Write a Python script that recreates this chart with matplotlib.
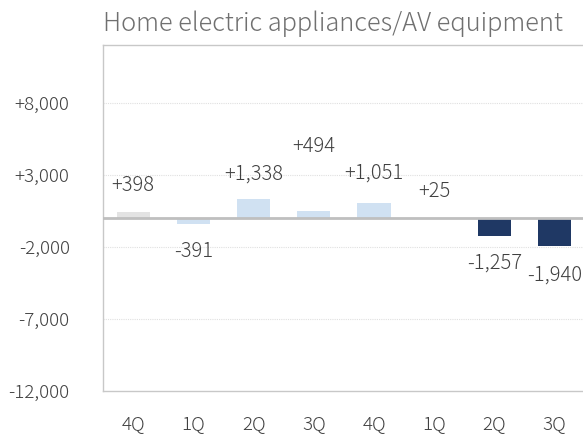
import numpy as np
import matplotlib.pyplot as plt

plt.rcParams['font.family'] = ['Noto Sans CJK JP', 'DejaVu Sans']

quarters = ["4Q", "1Q", "2Q", "3Q", "4Q", "1Q", "2Q", "3Q"]
changes = [398, -391, 1338, 494, 1051, 25, -1257, -1940]
value_labels = ["+398", "-391", "+1,338", "+494", "+1,051", "+25", "-1,257", "-1,940"]
bar_colors = ["#e3e3e3", "#d0e1f2", "#d0e1f2", "#d0e1f2", "#d0e1f2",
              "#1f3864", "#1f3864", "#1f3864"]
# label distance from bar end, in pixels (as laid out in the original)
label_gap = [27, 28, 25, 64, 30, 26, 27, 29]

yticks = [8000, 3000, -2000, -7000, -12000]
ytick_text = ["+8,000", "+3,000", "-2,000", "-7,000", "-12,000"]

fig = plt.figure(figsize=(5.83, 4.41), dpi=100)
ax = fig.add_axes([103 / 583, 50 / 441, 1 - 103 / 583, 346 / 441])

x = np.arange(len(changes))
ax.bar(x, changes, width=0.55, color=bar_colors, zorder=2)
ax.axhline(0, color="#bfbfbf", lw=2, zorder=3)

for xi, v, lab, gap in zip(x, changes, value_labels, label_gap):
    off = gap * 0.72 if v >= 0 else -gap * 0.72
    ax.annotate(lab, (xi, v), xytext=(0, off), textcoords="offset points",
                ha="center", va="center", fontsize=14.5, fontweight="light",
                color="#404040")

ax.set_xlim(-0.5, 7.47)
ax.set_ylim(-12000, 12000)
ax.set_yticks(yticks)
ax.set_yticklabels(ytick_text, fontsize=13.5, fontweight="light", color="#404040")
ax.tick_params(axis="y", length=0, pad=24)
ax.set_xticks(x)
ax.set_xticklabels(quarters, fontsize=13.5, fontweight="light", color="#404040")
ax.tick_params(axis="x", length=0, pad=17)
for g in [8000, 3000, -2000, -7000]:
    ax.axhline(g, color="#e0e0e0", lw=0.8, ls=(0, (1, 1)), zorder=1)

for s in ["left", "top", "bottom"]:
    ax.spines[s].set_color("#c8c8c8")
    ax.spines[s].set_linewidth(1)
ax.spines["right"].set_visible(False)

fig.text(103 / 583, 1 - 24 / 441, "Home electric appliances/AV equipment",
         fontsize=18.3, fontweight="light", color="#707070", va="center", ha="left")

fig.savefig("out.png", dpi=100)
